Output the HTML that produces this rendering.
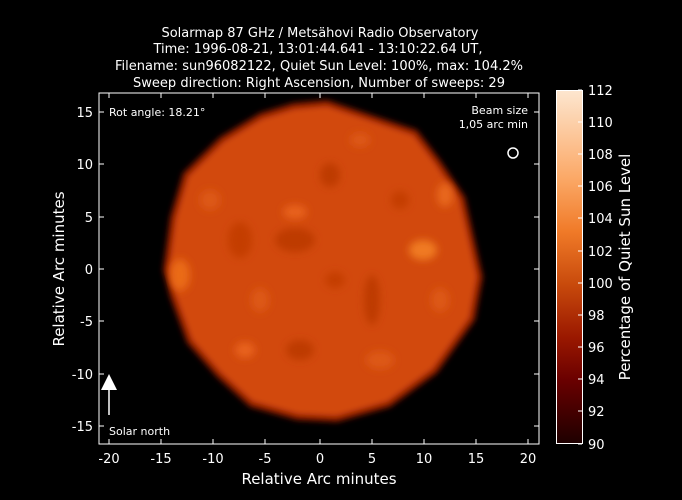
<!DOCTYPE html>
<html><head><meta charset="utf-8"><style>
body{margin:0;background:#000;width:682px;height:500px;overflow:hidden}
svg{display:block}
text{font-family:"DejaVu Sans","Liberation Sans",sans-serif;fill:#fff}
</style></head><body>
<svg width="682" height="500" viewBox="0 0 682 500">
<defs>
<linearGradient id="cb" x1="0" y1="1" x2="0" y2="0">
<stop offset="0" stop-color="#1e0000"/>
<stop offset="0.18" stop-color="#6a0000"/>
<stop offset="0.3" stop-color="#9a1800"/>
<stop offset="0.45" stop-color="#c84a0c"/>
<stop offset="0.6" stop-color="#f07a28"/>
<stop offset="0.75" stop-color="#fba866"/>
<stop offset="1" stop-color="#fde6cf"/>
</linearGradient>
<filter id="edge" x="-10%" y="-10%" width="120%" height="120%"><feGaussianBlur stdDeviation="3"/></filter>
<filter id="bl" x="-10%" y="-10%" width="120%" height="120%"><feGaussianBlur stdDeviation="4"/></filter>
<clipPath id="sc"><polygon points="293,103 327,100 417,130 440,160 465,197 483,277 475,320 437,373 390,407 337,422 297,420 250,407 217,377 187,343 170,297 163,270 170,217 183,173 220,137 260,113"/></clipPath>
</defs>
<text x="320" y="37" font-size="13" text-anchor="middle" textLength="317" lengthAdjust="spacingAndGlyphs">Solarmap 87 GHz / Metsähovi Radio Observatory</text>
<text x="318" y="53" font-size="13" text-anchor="middle" textLength="329" lengthAdjust="spacingAndGlyphs">Time: 1996-08-21, 13:01:44.641 - 13:10:22.64 UT,</text>
<text x="319" y="70" font-size="13" text-anchor="middle" textLength="408" lengthAdjust="spacingAndGlyphs">Filename: sun96082122, Quiet Sun Level: 100%, max: 104.2%</text>
<text x="319" y="87" font-size="13" text-anchor="middle" textLength="372" lengthAdjust="spacingAndGlyphs">Sweep direction: Right Ascension, Number of sweeps: 29</text>
<polygon points="293,103 327,100 417,130 440,160 465,197 483,277 475,320 437,373 390,407 337,422 297,420 250,407 217,377 187,343 170,297 163,270 170,217 183,173 220,137 260,113" fill="#8a1c02" filter="url(#edge)"/>
<polygon transform="translate(322,262) scale(0.965) translate(-322,-262)" points="293,103 327,100 417,130 440,160 465,197 483,277 475,320 437,373 390,407 337,422 297,420 250,407 217,377 187,343 170,297 163,270 170,217 183,173 220,137 260,113" fill="#d2480a" filter="url(#edge)"/>
<g clip-path="url(#sc)" filter="url(#bl)">
<ellipse cx="423" cy="250" rx="14" ry="10" fill="#f07a22"/>
<ellipse cx="180" cy="275" rx="10" ry="16" fill="#ea6a18"/>
<ellipse cx="445" cy="195" rx="8" ry="12" fill="#e8681a"/>
<ellipse cx="295" cy="212" rx="12" ry="7" fill="#e8621a"/>
<ellipse cx="245" cy="350" rx="10" ry="8" fill="#e8621a"/>
<ellipse cx="295" cy="240" rx="20" ry="12" fill="#be3a05"/>
<ellipse cx="330" cy="175" rx="10" ry="12" fill="#be3a05"/>
<ellipse cx="372" cy="300" rx="8" ry="25" fill="#be3a05"/>
<ellipse cx="300" cy="350" rx="14" ry="10" fill="#be3a05"/>
<ellipse cx="240" cy="240" rx="12" ry="18" fill="#c43e06"/>
<ellipse cx="380" cy="360" rx="14" ry="9" fill="#dd5812"/>
<ellipse cx="210" cy="200" rx="10" ry="10" fill="#dd5812"/>
<ellipse cx="360" cy="140" rx="10" ry="7" fill="#dd5812"/>
<ellipse cx="400" cy="200" rx="9" ry="9" fill="#c43e06"/>
<ellipse cx="260" cy="300" rx="9" ry="12" fill="#dd5812"/>
<ellipse cx="335" cy="280" rx="10" ry="8" fill="#c43e06"/>
<ellipse cx="440" cy="300" rx="9" ry="12" fill="#dd5812"/>
</g>
<rect x="99" y="93" width="440" height="351" fill="none" stroke="#fff" stroke-width="1"/>
<g stroke="#fff">
<path d="M109,444v-5M161,444v-5M213,444v-5M265,444v-5M320,444v-5M372,444v-5M424,444v-5M476,444v-5M528,444v-5"/>
<path d="M109,93v5M161,93v5M213,93v5M265,93v5M320,93v5M372,93v5M424,93v5M476,93v5M528,93v5"/>
<path d="M99,112h5M99,164h5M99,217h5M99,269h5M99,321h5M99,374h5M99,426h5"/>
<path d="M539,112h-5M539,164h-5M539,217h-5M539,269h-5M539,321h-5M539,374h-5M539,426h-5"/>
</g>
<g font-size="13" text-anchor="middle">
<text x="109" y="463">-20</text><text x="161" y="463">-15</text><text x="213" y="463">-10</text><text x="265" y="463">-5</text><text x="320" y="463">0</text><text x="372" y="463">5</text><text x="424" y="463">10</text><text x="476" y="463">15</text><text x="528" y="463">20</text>
</g>
<g font-size="13" text-anchor="end">
<text x="93" y="117">15</text><text x="93" y="169">10</text><text x="93" y="222">5</text><text x="93" y="274">0</text><text x="93" y="326">-5</text><text x="93" y="379">-10</text><text x="93" y="431">-15</text>
</g>
<text x="319" y="484" font-size="15" text-anchor="middle">Relative Arc minutes</text>
<text transform="translate(64,269) rotate(-90)" font-size="15" text-anchor="middle">Relative Arc minutes</text>
<text x="109" y="116" font-size="11">Rot angle: 18.21°</text>
<text x="528" y="114" font-size="11" text-anchor="end">Beam size</text>
<text x="528" y="128" font-size="11" text-anchor="end">1,05 arc min</text>
<circle cx="513" cy="153" r="5" fill="none" stroke="#fff" stroke-width="1.5"/>
<line x1="109" y1="415" x2="109" y2="388" stroke="#fff" stroke-width="1.5"/>
<polygon points="101,390 109,374 117,390" fill="#fff"/>
<text x="109" y="435" font-size="11">Solar north</text>
<rect x="556.5" y="90.5" width="26" height="353" fill="url(#cb)" stroke="#fff"/>
<g stroke="#fff"><path d="M582,90h-4M582,122h-4M582,154h-4M582,186h-4M582,218h-4M582,251h-4M582,283h-4M582,315h-4M582,347h-4M582,379h-4M582,411h-4M582,444h-4"/></g>
<g font-size="13">
<text x="588" y="95">112</text><text x="588" y="127">110</text><text x="588" y="159">108</text><text x="588" y="191">106</text><text x="588" y="223">104</text><text x="588" y="256">102</text><text x="588" y="288">100</text><text x="588" y="320">98</text><text x="588" y="352">96</text><text x="588" y="384">94</text><text x="588" y="416">92</text><text x="588" y="449">90</text>
</g>
<text transform="translate(630,267) rotate(-90)" font-size="15" text-anchor="middle">Percentage of Quiet Sun Level</text>
</svg>
</body></html>
